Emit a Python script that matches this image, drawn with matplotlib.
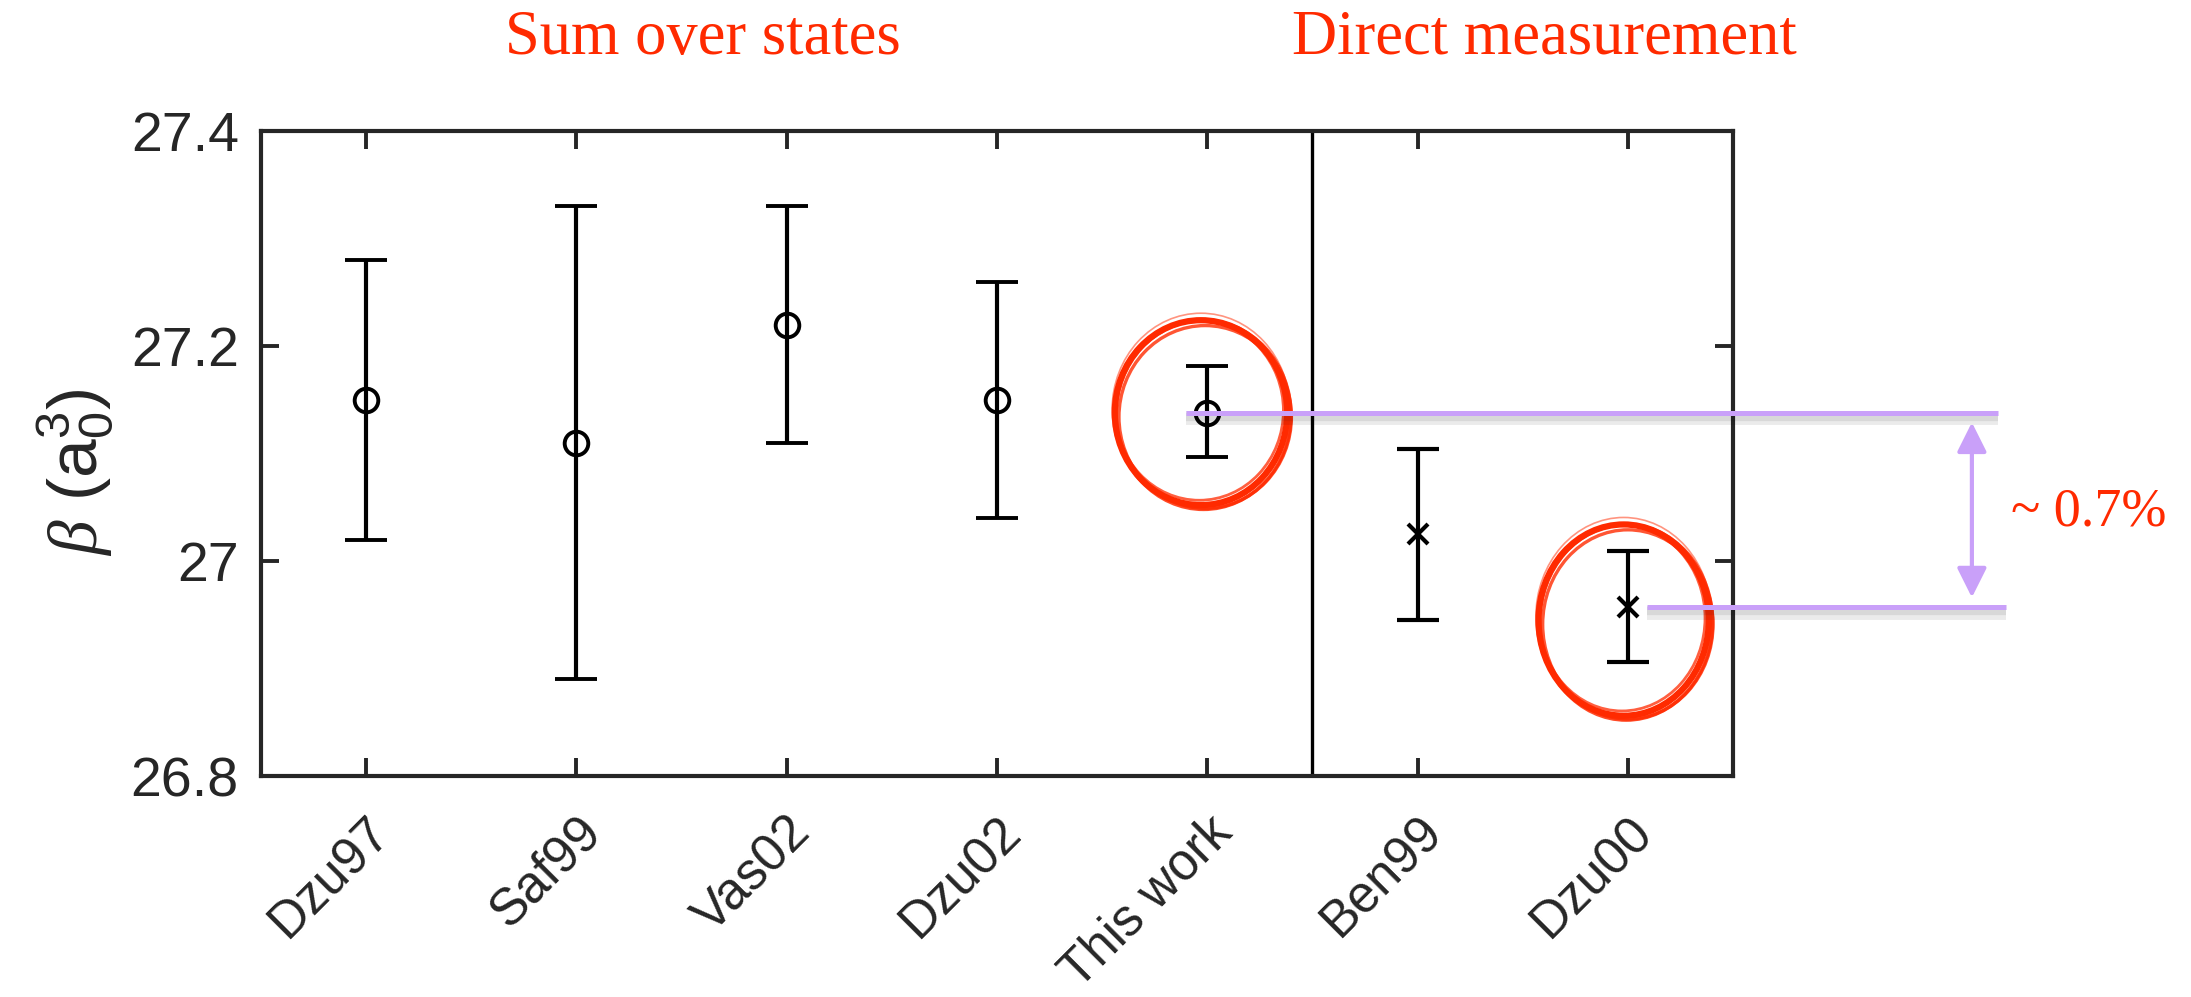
import matplotlib
matplotlib.use("Agg")
import matplotlib.pyplot as plt
import matplotlib.patheffects as pe
from matplotlib.patches import Ellipse
from matplotlib.transforms import ScaledTranslation

labels = ['Dzu97', 'Saf99', 'Vas02', 'Dzu02', 'This work', 'Ben99', 'Dzu00']
beta = [27.15, 27.11, 27.22, 27.15, 27.138, 27.025, 26.957]
err_low = [0.13, 0.22, 0.11, 0.11, 0.041, 0.080, 0.051]
err_high = [0.13, 0.22, 0.11, 0.11, 0.043, 0.079, 0.052]
n_sos = 5  # first five are sum-over-states, rest direct measurements

yticks = [26.8, 27.0, 27.2, 27.4]
ytick_labels = ['26.8', '27', '27.2', '27.4']

dark = '#262626'
red = '#FF2A00'
purple = '#C9A0F9'

plt.rcParams['font.family'] = ['Liberation Sans', 'DejaVu Sans']
plt.rcParams['mathtext.fontset'] = 'custom'
plt.rcParams['mathtext.rm'] = 'Liberation Sans'
plt.rcParams['mathtext.it'] = 'Liberation Serif:italic'

fig = plt.figure(figsize=(21.91, 9.97), dpi=100)
ax = fig.add_axes([261 / 2191, 1 - 776 / 997, 1472 / 2191, 645 / 997])

x = list(range(1, len(labels) + 1))

ax.errorbar(x[:n_sos], beta[:n_sos], yerr=[err_low[:n_sos], err_high[:n_sos]],
            fmt='o', color='k', mfc='none', ms=17, mew=2.8,
            elinewidth=3.0, capsize=15, capthick=3.0)
ax.errorbar(x[n_sos:], beta[n_sos:], yerr=[err_low[n_sos:], err_high[n_sos:]],
            fmt='x', color='k', ms=14, mew=3.0,
            elinewidth=3.0, capsize=15, capthick=3.0)

ax.axvline(n_sos + 0.5, color='k', lw=2.4)

ax.set_xlim(0.5, len(labels) + 0.5)
ax.set_ylim(26.8, 27.4)
ax.set_yticks(yticks)
ax.set_yticklabels(ytick_labels, fontsize=40)
ax.set_xticks(x)
ax.set_xticklabels(labels, rotation=45, ha='right', va='center',
                   rotation_mode='anchor', fontsize=37)

ax.tick_params(direction='in', length=13, width=2.8, color=dark,
               labelcolor=dark, top=True, right=True)
ax.tick_params(axis='y', pad=16)
ax.tick_params(axis='x', pad=35)
for lab in ax.get_xticklabels():
    lab.set_transform(lab.get_transform() +
                      ScaledTranslation(0.17, 0, fig.dpi_scale_trans))
for s in ax.spines.values():
    s.set_color(dark)
    s.set_linewidth(3.0)

ax.set_ylabel(r'$\mathit{\beta}$ (a$_0^3$)', fontsize=50, color=dark)
ax.yaxis.set_label_coords(-0.099, 0.47)

# hand-drawn style red rings
def brush_ring(cx, cy, w, h):
    rings = [(0, 0, 0, 0, 4.5, 1.0),
             (0.012, -0.002, 0.012, 0.004, 2.5, 0.85),
             (-0.008, 0.002, -0.02, -0.005, 2.0, 0.75),
             (0.02, -0.004, 0.0, -0.002, 2.4, 0.8),
             (0.0, 0.003, 0.025, 0.007, 1.2, 0.5)]
    for dx, dy, dw, dh, lw, a in rings:
        ax.add_patch(Ellipse((cx + dx, cy + dy), w + dw, h + dh, angle=0,
                             fill=False, ec=red, lw=lw, alpha=a, clip_on=False))

brush_ring(x[4] - 0.03, beta[4], 0.82, 0.172)
brush_ring(x[6] - 0.02, beta[6] - 0.012, 0.81, 0.178)

# purple comparison lines with arrow
shadow = [pe.SimpleLineShadow(offset=(0, -4), shadow_color='k', alpha=0.08,
                              linewidth=10),
          pe.SimpleLineShadow(offset=(0, -3), shadow_color='k', alpha=0.08,
                              linewidth=6), pe.Normal()]
ax.plot([x[4] - 0.1, 8.76], [beta[4], beta[4]], color=purple, lw=3.6,
        clip_on=False, solid_capstyle='butt', path_effects=shadow, zorder=5)
ax.plot([x[6] + 0.09, 8.80], [beta[6], beta[6]], color=purple, lw=3.6,
        clip_on=False, solid_capstyle='butt', path_effects=shadow, zorder=5)
ax.annotate('', xy=(8.636, beta[4]), xytext=(8.636, beta[6]),
            arrowprops=dict(arrowstyle='<|-|>,head_length=0.4,head_width=0.2',
                            mutation_scale=45, color=purple, lw=3,
                            shrinkA=7, shrinkB=7),
            annotation_clip=False)

fig.text(2011 / 2191, 1 - 512 / 997, '~ 0.7%', family='Liberation Serif',
         fontsize=39, color=red, ha='left', va='center')
fig.text(703 / 2191, 1 - 39 / 997, 'Sum over states', family='Liberation Serif',
         fontsize=45, color=red, ha='center', va='center')
fig.text(1544 / 2191, 1 - 39 / 997, 'Direct measurement', family='Liberation Serif',
         fontsize=45, color=red, ha='center', va='center')

fig.savefig('out.png', dpi=100)
